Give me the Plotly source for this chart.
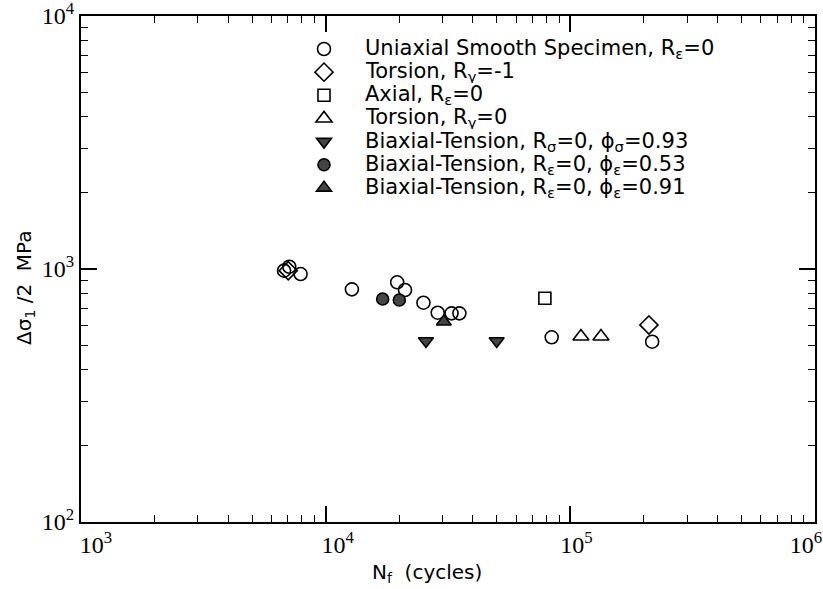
import plotly.graph_objects as go

# Data (N_f cycles, stress amplitude MPa)
uni_x = [6760, 7100, 7900, 12800, 19600, 21100, 25100, 28700, 32700, 35200, 83900, 216000]
uni_y = [985, 1021, 955, 831, 886, 826, 736, 672, 668, 668, 537, 516]
tor_m1_x = [7030, 209500]
tor_m1_y = [985, 601]
axial_x = [78700]
axial_y = [766]
tor_0_x = [110500, 133400]
tor_0_y = [541, 541]
bt_s_x = [25700, 50000]
bt_s_y = [519, 519]
bt_e53_x = [17100, 20000]
bt_e53_y = [761, 754]
bt_e91_x = [30400]
bt_e91_y = [619]

names = [
    "Uniaxial Smooth Specimen, R<sub>ε</sub>=0",
    "Torsion, R<sub>γ</sub>=-1",
    "Axial, R<sub>ε</sub>=0",
    "Torsion, R<sub>γ</sub>=0",
    "Biaxial-Tension, R<sub>σ</sub>=0, ϕ<sub>σ</sub>=0.93",
    "Biaxial-Tension, R<sub>ε</sub>=0, ϕ<sub>ε</sub>=0.53",
    "Biaxial-Tension, R<sub>ε</sub>=0, ϕ<sub>ε</sub>=0.91",
]

NB = "\u00a0"
tick_vals_x = [1e3, 1e4, 1e5, 1e6]
tick_text_x = [NB * 5 + "10<sup>3</sup>", NB * 4 + "10<sup>4</sup>",
               NB * 2 + "10<sup>5</sup>", "10<sup>6</sup>" + NB * 3]
tick_vals_y = [1e2, 1e3, 1e4]
tick_text_y = ["10<sup>2</sup>", "10<sup>3</sup>", "10<sup>4</sup>"]

fig = go.Figure()
series = [
    (uni_x, uni_y, "circle-open", 13, "black"),
    (tor_m1_x, tor_m1_y, "diamond-open", 14, "black"),
    (axial_x, axial_y, "square-open", 12, "black"),
    (tor_0_x, tor_0_y, "triangle-up-open", 14, "black"),
    (bt_s_x, bt_s_y, "triangle-down", 13, "#454545"),
    (bt_e53_x, bt_e53_y, "circle", 12, "#454545"),
    (bt_e91_x, bt_e91_y, "triangle-up", 13, "#454545"),
]
for i, (xs, ys, sym, sz, col) in enumerate(series):
    fig.add_trace(go.Scatter(
        x=xs, y=ys, mode="markers", name=" ",
        hovertext=names[i],
        marker=dict(symbol=sym, size=sz, color=col,
                    line=dict(color="black", width=1.6)),
    ))

axis_common = dict(
    type="log", showgrid=False, zeroline=False,
    showline=True, linecolor="black", linewidth=2,
    ticks="inside", ticklen=16, tickwidth=1.5, tickcolor="black",
    mirror="allticks", ticklabeloverflow="allow", automargin=False,
    tickfont=dict(family="Liberation Serif", size=24, color="black"),
    minor=dict(ticks="inside", ticklen=7, tickwidth=1, tickcolor="black", dtick="D1"),
)

fig.update_xaxes(range=[3, 6], tickvals=tick_vals_x, ticktext=tick_text_x, **axis_common)
fig.update_yaxes(range=[2, 4], tickvals=tick_vals_y, ticktext=tick_text_y, **axis_common)

# legend text rows drawn as annotations next to the legend symbols
row_top = 49.0
row_gap = 23.15
legend_anns = []
for i, nm in enumerate(names):
    py = row_top + i * row_gap
    legend_anns.append(dict(
        text=nm, xref="paper", yref="paper",
        x=(363 - 81) / 734, y=(522 - py) / 506,
        xanchor="left", yanchor="middle", showarrow=False,
        height=22, valign="middle",
        font=dict(family="DejaVu Sans", size=21, color="black"),
    ))

fig.update_layout(
    width=823, height=589,
    margin=dict(l=81, r=8, t=16, b=67),
    paper_bgcolor="white", plot_bgcolor="white",
    showlegend=True,
    legend=dict(x=(304 - 81) / 734, y=(522 - 32.4) / 506, xanchor="left", yanchor="top",
                bgcolor="rgba(0,0,0,0)", itemwidth=30,
                font=dict(family="DejaVu Sans", size=15.5, color="black")),
    annotations=[
        dict(text="N<sub>f</sub>  (cycles)", xref="paper", yref="paper",
             x=0.471, y=-0.10, xanchor="center", yanchor="middle", showarrow=False,
             font=dict(family="DejaVu Sans", size=20, color="black")),
        dict(text="Δσ<sub>1</sub> /2  MPa", xref="paper", yref="paper",
             x=(25 - 81) / 734, y=0.4625, xanchor="center", yanchor="middle",
             showarrow=False, textangle=-90,
             font=dict(family="DejaVu Sans", size=20, color="black")),
    ] + legend_anns,
)

fig.write_html("out.html")
